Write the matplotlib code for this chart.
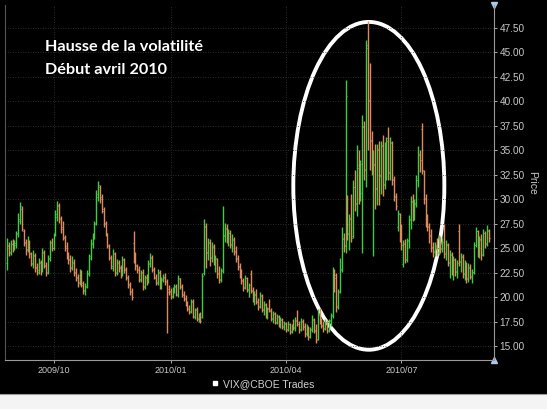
import matplotlib
matplotlib.use("Agg")
import matplotlib.pyplot as plt
from matplotlib.patches import Ellipse, Rectangle
from matplotlib.lines import Line2D
from matplotlib.ticker import MultipleLocator, FormatStrFormatter
import numpy as np

# daily VIX bars (Aug 2009 - Aug 2010)
opens = [
    23.5, 25.2, 24.5, 25.4, 25.0, 25.3, 26.4, 27.8, 29.0, 26.8, 25.6, 24.9,
    25.6, 24.4, 23.4, 24.3, 23.1, 22.6, 23.6, 22.8, 24.6, 23.3,
    22.6, 23.9, 25.6, 25.0, 26.4, 28.2, 29.4,
    28.1, 27.2, 26.1, 25.2, 24.3, 23.9, 23.1, 23.6, 22.6, 22.1, 21.4, 22.6, 21.4, 20.6, 21.1,
    22.4, 24.2, 25.4, 26.2, 27.6, 30.2, 31.2, 30.2, 28.8, 27.6, 26.4, 25.3,
    24.1, 23.0, 24.4, 22.6, 23.6, 23.1, 22.5, 23.9, 22.9, 22.1, 21.3, 20.6, 25.5, 24.1,
    23.2, 22.9, 21.7, 22.6, 21.1, 22.1, 21.6, 23.4, 24.1, 22.9, 22.1, 21.4, 22.6, 21.1, 21.7, 22.1, 21.6,
    20.8, 20.6, 20.1, 20.7, 21.1, 20.2, 21.9, 21.1, 20.3, 19.9, 19.4, 18.9, 18.6, 19.6, 18.1, 18.8, 17.9, 18.3, 18.0,
    22.5,
    27.2, 24.5, 25.6, 24.1, 25.1, 23.7, 23.9, 22.5, 21.8, 22.7,
    26.3, 27.1, 26.1, 26.6, 25.4, 25.9, 24.7, 24.0, 23.2, 22.4,
    21.7, 21.0, 21.9, 20.8, 22.4, 20.7, 19.9, 20.2, 19.6, 19.1,
    20.1, 18.8, 19.2, 18.2, 18.9, 18.6, 17.9, 18.3, 17.5, 18.0,
    17.2, 17.7, 17.0, 17.3, 16.7, 17.2, 16.5, 17.1, 16.9, 17.6,
    17.3, 16.7, 17.5, 17.0, 16.3, 16.8, 16.0, 16.7, 17.7, 16.6,
    15.7, 18.2, 17.6, 17.1, 16.8, 17.4, 16.6, 17.7, 18.1, 22.4,
    22.3, 19.1, 20.6, 22.9, 25.9, 25.3, 30.2, 26.4, 28.1, 26.2,
    31.3, 29.6, 33.2, 30.4, 30.6, 37.4, 33.1, 45.8, 40.1, 36.1,
    29.0, 33.6, 31.1, 35.1, 32.4, 35.4, 31.6, 35.3, 36.3, 32.7,
    35.7, 32.1, 30.3, 27.2, 28.5, 26.1, 23.4, 25.4, 23.9, 25.7,
    27.9, 29.7, 28.3, 29.6, 32.0, 34.5, 37.2, 32.9, 30.1, 27.9,
    27.3, 26.3, 25.1, 24.7, 25.3, 24.6, 25.8, 25.0, 27.0, 24.5,
    25.3, 23.6, 24.3, 22.8, 23.8, 22.7, 26.8, 23.7, 24.1, 22.5,
    23.3, 21.9, 23.1, 22.2, 22.6, 25.3, 26.8, 24.7, 25.9, 24.4,
    26.5, 25.5, 26.8,
]
highs = [
    26.0, 25.6, 25.8, 25.9, 25.8, 26.8, 28.6, 29.7, 29.3, 27.0, 25.9, 26.2,
    25.8, 24.6, 24.8, 24.5, 23.5, 24.0, 23.8, 25.0, 24.8, 23.6,
    24.3, 25.8, 26.0, 26.6, 28.9, 29.8, 29.6,
    28.3, 27.8, 26.3, 25.6, 24.6, 24.3, 24.2, 23.9, 23.0, 22.4, 22.9, 22.8, 21.6, 21.4, 22.8,
    24.4, 25.9, 26.5, 27.8, 30.9, 31.9, 31.5, 30.5, 29.2, 27.8, 26.6, 25.4,
    24.3, 24.9, 24.6, 23.9, 23.8, 23.3, 24.2, 24.0, 23.1, 22.3, 21.5, 20.9, 26.8, 24.6,
    23.4, 23.2, 22.8, 22.9, 22.3, 22.4, 23.8, 24.5, 24.3, 23.1, 22.4, 22.9, 22.8, 22.1, 22.4, 22.5, 21.8,
    21.2, 20.9, 21.0, 21.3, 21.3, 22.3, 22.0, 21.3, 20.6, 20.2, 19.6, 19.2, 19.8, 19.8, 18.9, 19.0, 18.4, 18.5, 22.5,
    28.0,
    27.6, 26.0, 25.9, 25.6, 25.4, 24.3, 24.0, 23.2, 23.0, 29.3,
    27.6, 27.5, 27.0, 26.9, 26.4, 26.1, 25.2, 24.3, 23.5, 22.9,
    22.0, 22.3, 22.1, 21.4, 22.8, 21.0, 20.6, 20.8, 19.9, 20.5,
    20.3, 19.6, 19.4, 19.0, 19.8, 18.9, 18.6, 18.5, 18.3, 18.2,
    18.0, 17.9, 17.6, 17.5, 17.6, 17.4, 17.2, 17.8, 18.0, 18.7,
    17.6, 17.9, 17.8, 17.4, 17.2, 17.0, 16.9, 18.2, 17.9, 17.3,
    18.8, 18.9, 17.9, 17.6, 17.8, 17.7, 17.8, 18.4, 23.1, 22.9,
    22.5, 20.8, 24.0, 27.2, 26.5, 42.2, 30.4, 28.5, 30.5, 32.0,
    33.0, 35.5, 35.0, 34.0, 38.6, 38.0, 46.3, 48.2, 43.9, 37.0,
    35.0, 35.6, 35.6, 36.0, 36.0, 36.6, 35.8, 36.4, 37.4, 36.4,
    36.0, 32.4, 30.6, 28.9, 28.6, 27.5, 25.8, 25.9, 26.0, 28.4,
    30.3, 30.5, 30.0, 32.5, 35.4, 35.0, 37.8, 33.0, 30.5, 28.5,
    27.6, 27.0, 25.6, 25.6, 26.0, 26.3, 26.2, 26.0, 27.5, 25.8,
    25.5, 24.8, 24.6, 24.2, 24.0, 23.8, 27.5, 24.5, 24.4, 23.8,
    23.6, 23.5, 23.4, 22.9, 25.6, 27.2, 26.9, 26.2, 26.4, 27.0,
    26.8, 27.4, 27.0,
]
lows = [
    22.8, 24.2, 24.3, 24.6, 24.8, 25.0, 26.1, 27.5, 26.8, 25.2, 24.3, 24.6,
    24.0, 23.2, 23.0, 22.6, 22.3, 22.4, 22.3, 22.6, 23.0, 22.2,
    22.4, 23.7, 24.7, 24.8, 26.2, 27.8, 27.6,
    26.6, 25.8, 24.7, 23.9, 23.4, 22.6, 22.8, 22.2, 21.6, 21.0, 21.2, 21.0, 20.3, 20.2, 20.9,
    22.2, 23.8, 25.0, 25.9, 27.4, 29.8, 29.6, 28.6, 27.2, 26.2, 25.0, 23.8,
    22.9, 22.7, 22.2, 22.3, 22.6, 22.0, 22.2, 22.5, 21.7, 20.9, 20.2, 19.7, 23.5, 22.8,
    22.5, 21.5, 21.5, 20.7, 20.8, 21.2, 21.4, 23.1, 22.6, 21.8, 21.2, 21.2, 20.8, 20.8, 21.5, 21.2, 16.3,
    20.2, 19.8, 19.9, 20.4, 20.1, 20.0, 20.8, 20.0, 19.6, 19.1, 18.6, 18.3, 18.4, 17.9, 17.8, 17.6, 17.5, 17.4, 17.9,
    22.3,
    23.0, 23.8, 23.2, 23.6, 23.3, 22.6, 22.0, 21.4, 21.5, 22.5,
    25.6, 25.5, 25.2, 25.0, 24.6, 24.3, 23.6, 22.8, 22.0, 21.3,
    20.6, 20.8, 20.5, 20.0, 20.4, 19.5, 19.2, 19.3, 18.7, 18.9,
    18.5, 18.2, 17.9, 17.8, 18.5, 17.6, 17.4, 17.2, 17.2, 16.9,
    16.8, 16.7, 16.6, 16.4, 16.5, 16.2, 16.3, 16.6, 16.5, 17.0,
    16.3, 16.5, 16.6, 15.9, 16.0, 15.6, 15.8, 16.4, 16.3, 15.3,
    15.6, 17.2, 16.8, 16.4, 16.6, 16.3, 16.4, 17.0, 17.9, 20.5,
    18.5, 18.8, 20.4, 22.6, 24.6, 24.5, 25.8, 24.8, 25.6, 26.0,
    28.8, 28.3, 29.5, 29.8, 24.5, 32.0, 31.3, 35.0, 33.0, 32.5,
    24.2, 29.0, 29.4, 29.4, 30.5, 30.3, 31.0, 32.0, 32.0, 32.0,
    31.5, 29.8, 28.9, 26.8, 25.6, 24.8, 23.1, 23.5, 23.6, 25.0,
    27.0, 27.8, 27.9, 29.2, 31.3, 32.8, 32.6, 29.5, 27.2, 26.8,
    25.5, 24.6, 24.1, 24.2, 24.2, 24.3, 24.5, 24.6, 24.0, 23.8,
    23.2, 22.0, 22.3, 21.7, 22.2, 22.0, 23.2, 22.6, 22.0, 21.7,
    21.4, 21.5, 21.8, 21.4, 22.4, 25.1, 24.1, 24.0, 23.8, 24.2,
    25.0, 25.2, 25.6,
]
closes = [
    25.3, 24.6, 25.4, 25.0, 25.5, 26.5, 28.0, 29.3, 27.0, 25.5, 24.8, 25.8,
    24.5, 23.5, 24.2, 23.0, 22.8, 23.5, 22.6, 24.5, 23.2, 22.5,
    24.0, 25.5, 25.0, 26.2, 28.5, 29.3, 28.0,
    27.0, 26.0, 25.0, 24.2, 23.8, 23.0, 23.5, 22.5, 22.0, 21.5, 22.5, 21.2, 20.7, 21.0, 22.5,
    24.0, 25.5, 26.0, 27.5, 30.5, 31.5, 30.0, 29.0, 27.5, 26.5, 25.2, 24.0,
    23.2, 24.5, 22.5, 23.5, 23.0, 22.4, 23.8, 22.8, 22.0, 21.2, 20.5, 20.0, 24.0, 23.3,
    22.8, 21.8, 22.5, 21.0, 22.0, 21.5, 23.5, 24.0, 22.8, 22.0, 21.5, 22.5, 21.0, 21.8, 22.0, 21.5, 20.5,
    20.5, 20.0, 20.8, 21.0, 20.3, 21.8, 21.0, 20.2, 19.8, 19.3, 18.8, 18.5, 19.5, 18.0, 18.7, 17.8, 18.2, 17.6, 22.2,
    27.3,
    24.6, 25.5, 24.0, 25.2, 23.6, 24.0, 22.4, 21.7, 22.8, 26.2,
    27.0, 26.0, 26.5, 25.3, 25.8, 24.6, 23.9, 23.1, 22.3, 21.6,
    20.9, 22.0, 20.7, 21.2, 20.6, 19.8, 20.3, 19.5, 19.0, 20.2,
    18.7, 19.3, 18.1, 18.8, 18.7, 17.8, 18.4, 17.4, 18.1, 17.1,
    17.8, 16.9, 17.4, 16.6, 17.3, 16.4, 17.0, 16.8, 17.7, 17.2,
    16.6, 17.6, 16.9, 16.2, 16.9, 15.9, 16.6, 17.8, 16.5, 15.6,
    18.3, 17.5, 17.0, 16.7, 17.5, 16.5, 17.6, 18.2, 22.5, 21.9,
    19.0, 20.5, 22.8, 26.0, 25.2, 40.5, 26.5, 28.0, 26.0, 31.2,
    29.5, 33.5, 30.5, 33.6, 37.5, 33.0, 45.5, 40.0, 36.0, 33.0,
    33.5, 31.0, 35.0, 32.5, 35.5, 31.5, 35.2, 36.0, 32.8, 35.8,
    32.0, 30.2, 29.3, 28.6, 26.0, 25.3, 25.5, 23.8, 25.8, 28.0,
    29.8, 28.2, 29.5, 32.0, 34.6, 34.0, 33.0, 30.0, 27.8, 27.2,
    26.2, 25.0, 24.6, 25.2, 24.5, 25.9, 24.9, 25.6, 24.4, 25.4,
    23.5, 24.4, 22.7, 23.9, 22.6, 23.5, 23.6, 24.2, 22.4, 23.4,
    21.8, 23.0, 22.1, 22.6, 25.3, 26.8, 24.6, 25.8, 24.3, 26.6,
    25.4, 26.9, 26.0,
]

# month ticks (bar index of the first trading day shown for each label)
tick_pos = [25, 88, 150, 212]
tick_labels = ['2009/10', '2010/01', '2010/04', '2010/07']

up_color = '#3fcc3f'
down_color = '#df8a5e'
grey = '#c8c8c8'

o = np.array(opens)
h = np.array(highs)
l = np.array(lows)
c = np.array(closes)
x = np.arange(len(c))
colors = np.where(c >= o, up_color, down_color)

fig = plt.figure(figsize=(5.47, 4.09), dpi=100, facecolor='black')
ax = fig.add_axes([5 / 547, 49 / 409, 489 / 547, 355 / 409])
ax.set_facecolor('black')

ax.vlines(x, l, h, colors=colors, linewidth=1.0)
ax.hlines(o, x - 0.5, x, colors=colors, linewidth=0.7)
ax.hlines(c, x, x + 0.5, colors=colors, linewidth=0.7)

ax.set_xlim(-1.1, 261.8)
ax.set_ylim(13.57, 49.85)

ax.yaxis.tick_right()
ax.yaxis.set_major_locator(MultipleLocator(2.5))
ax.yaxis.set_major_formatter(FormatStrFormatter('%.2f'))
ax.set_xticks(tick_pos)
ax.set_xticklabels(tick_labels)
for lab in ax.get_xticklabels() + ax.get_yticklabels():
    lab.set_family('Liberation Sans')
ax.tick_params(axis='x', colors=grey, labelsize=6.5, length=2, width=0.6, pad=2)
ax.tick_params(axis='y', colors=grey, labelsize=7.2, length=2, width=0.6, pad=2)
ax.grid(True, color='#3a3a3a', linestyle=(0, (1, 2)), linewidth=0.6)

ax.spines['top'].set_visible(False)
ax.spines['left'].set_color('#555555')
ax.spines['bottom'].set_color('#9a9a9a')
ax.spines['right'].set_color('#9a9a9a')

# little blue end markers of the price scale
ax.plot([1], [1], marker='v', color='#a9c9ef', markersize=5, transform=ax.transAxes, clip_on=False)
ax.plot([1], [0], marker='^', color='#a9c9ef', markersize=5, transform=ax.transAxes, clip_on=False)

fig.text(532 / 547, 1 - 183 / 409, 'Price', rotation=270, color=grey, fontsize=7.5,
         family='Liberation Sans', ha='center', va='center')

# annotation
fig.text(45 / 547, 1 - 47 / 409, 'Hausse de la volatilité', color='white', fontsize=11.7,
         fontweight='bold', family='Lato', va='center')
fig.text(45 / 547, 1 - 70 / 409, 'Début avril 2010', color='white', fontsize=11.7,
         fontweight='bold', family='Lato', va='center')
ax.add_patch(Ellipse((194.5, 31.37), 81.2, 33.5, fill=False, edgecolor='white', linewidth=2.8))

handle = Line2D([], [], marker='s', color='white', linestyle='None', markersize=3.5)
leg = ax.legend(handles=[handle], labels=['VIX@CBOE Trades'], loc='center',
                bbox_to_anchor=(0.5256, -0.068), frameon=False,
                handletextpad=0.3, handlelength=1, prop={'family': 'Liberation Sans', 'size': 7.5})
for t in leg.get_texts():
    t.set_color('#d0d0d0')

# light strip under the chart
fig.add_artist(Rectangle((0, 0), 1, 15.5 / 409, transform=fig.transFigure,
                         facecolor='#f4f4f4', edgecolor='none'))
fig.add_artist(Line2D([0, 1], [15.5 / 409, 15.5 / 409], transform=fig.transFigure,
                      color='#9a9a9a', linewidth=0.8))

fig.savefig('out.png', dpi=100, facecolor='black')
